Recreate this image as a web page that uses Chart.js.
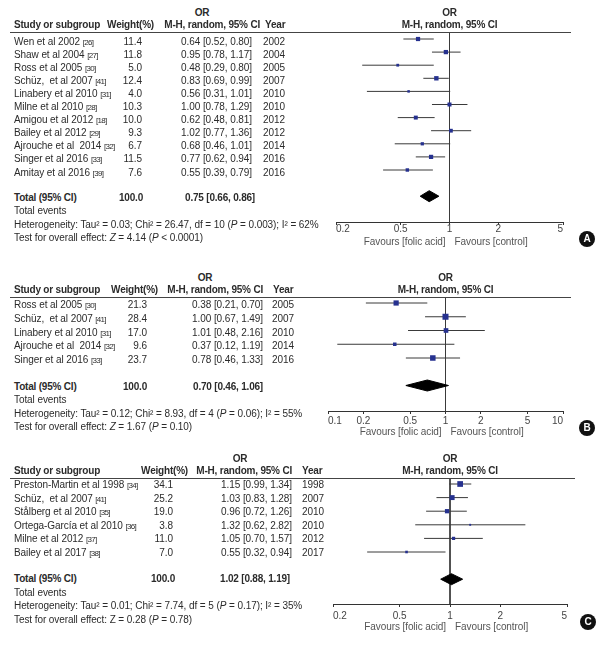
<!DOCTYPE html>
<html>
<head>
<meta charset="utf-8">
<script src="https://cdn.jsdelivr.net/npm/chart.js@4"></script>
<style>
body{margin:0;background:#fff;width:602px;height:645px;position:relative;overflow:hidden;font-family:"Liberation Sans",Arial,sans-serif;color:#2b2b2b;}
.t{position:absolute;font-size:10px;line-height:12px;white-space:pre;letter-spacing:-0.08px;}
.b{font-weight:bold;letter-spacing:-0.2px;}
.g{color:#555}
.ref{font-size:8px;letter-spacing:-0.7px;}
.hl{position:absolute;height:0;border-top:1px solid #444;}
.badge{position:absolute;width:16px;height:16px;border-radius:50%;background:#111;color:#fff;font-weight:bold;font-size:10px;line-height:16px;text-align:center;}
canvas{position:absolute;}
</style>
</head>
<body>
<canvas id="chartA" width="282" height="250" style="left:320px;top:0px"></canvas>
<canvas id="chartB" width="282" height="195" style="left:320px;top:250px"></canvas>
<canvas id="chartC" width="282" height="200" style="left:320px;top:445px"></canvas>
<script>
// panel A
let studyA = ['Wen et al 2002','Shaw et al 2004','Ross et al 2005','Schüz,  et al 2007','Linabery et al 2010','Milne et al 2010','Amigou et al 2012','Bailey et al 2012','Ajrouche et al  2014','Singer et al 2016','Amitay et al 2016'];
let refA = ['26','27','30','41','31','28','18','29','32','33','39'];
let weightA = [11.4,11.8,5.0,12.4,4.0,10.3,10.0,9.3,6.7,11.5,7.6];
let orA = [0.64,0.95,0.48,0.83,0.56,1.00,0.62,1.02,0.68,0.77,0.55];
let lowA = [0.52,0.78,0.29,0.69,0.31,0.78,0.48,0.77,0.46,0.62,0.39];
let highA = [0.80,1.17,0.80,0.99,1.01,1.29,0.81,1.36,1.01,0.94,0.79];
let yearA = [2002,2004,2005,2007,2010,2010,2012,2012,2014,2016,2016];
let totalA = [0.75,0.66,0.86];
let hetA = [0.03,26.47,10,'0.003',62];
let testA = [4.14,'< 0.0001'];
let ticksA = [0.2,0.5,1,2,5];

// panel B
let studyB = ['Ross et al 2005','Schüz,  et al 2007','Linabery et al 2010','Ajrouche et al  2014','Singer et al 2016'];
let refB = ['30','41','31','32','33'];
let weightB = [21.3,28.4,17.0,9.6,23.7];
let orB = [0.38,1.00,1.01,0.37,0.78];
let lowB = [0.21,0.67,0.48,0.12,0.46];
let highB = [0.70,1.49,2.16,1.19,1.33];
let yearB = [2005,2007,2010,2014,2016];
let totalB = [0.70,0.46,1.06];
let hetB = [0.12,8.93,4,'0.06',55];
let testB = [1.67,'= 0.10'];
let ticksB = [0.1,0.2,0.5,1,2,5,10];

// panel C
let studyC = ['Preston-Martin et al 1998','Schüz,  et al 2007','Stålberg et al 2010','Ortega-García et al 2010','Milne et al 2012','Bailey et al 2017'];
let refC = ['34','41','35','36','37','38'];
let weightC = [34.1,25.2,19.0,3.8,11.0,7.0];
let orC = [1.15,1.03,0.96,1.32,1.05,0.55];
let lowC = [0.99,0.83,0.72,0.62,0.70,0.32];
let highC = [1.34,1.28,1.26,2.82,1.57,0.94];
let yearC = [1998,2007,2010,2010,2012,2017];
let totalC = [1.02,0.88,1.19];
let hetC = [0.01,7.74,5,'0.17',35];
let testC = [0.28,'= 0.78'];
let ticksC = [0.2,0.5,1,2,5];

function put(html, x, y, align, cls){
    let el = document.createElement('div');
    el.className = 't ' + (cls || '');
    el.innerHTML = html;
    el.style.top = (y - 6) + 'px';
    if (align === 'r') el.style.right = (602 - x) + 'px';
    else if (align === 'c'){ el.style.left = (x - 100) + 'px'; el.style.width = '200px'; el.style.textAlign = 'center'; }
    else el.style.left = x + 'px';
    document.body.appendChild(el);
}

function ci(v, lo, hi){
    return v.toFixed(2) + ' [' + lo.toFixed(2) + ', ' + hi.toFixed(2) + ']';
}

function panel(id, d, L){
    let n = d.study.length;
    let cx = (L.left + L.right) / 2;

    // table header
    put('OR', L.c.or0, L.line - 19, 'c', 'b');
    put('Study or subgroup', 14, L.line - 7, 'l', 'b');
    put('Weight(%)', L.c.hw, L.line - 7, 'r', 'b');
    put('M-H, random, 95% CI', L.c.hm, L.line - 7, 'r', 'b');
    put('Year', L.c.hy, L.line - 7, 'l', 'b');
    put('OR', cx, L.line - 19, 'c', 'b');
    put('M-H, random, 95% CI', cx, L.line - 7, 'c', 'b');
    let hl = document.createElement('div');
    hl.className = 'hl';
    hl.style.left = '10px';
    hl.style.width = (L.lineEnd - 10) + 'px';
    hl.style.top = L.line + 'px';
    document.body.appendChild(hl);

    // study rows
    for (let i = 0; i < n; i++){
        let y = L.y0 + L.step * i + L.toff;
        put(d.study[i] + ' <span class="ref">[' + d.ref[i] + ']</span>', 14, y, 'l');
        put(d.weight[i].toFixed(1), L.c.w, y, 'r');
        put(ci(d.or[i], d.low[i], d.high[i]), L.c.or, y, 'r');
        put(String(d.year[i]), L.c.yr, y, 'l');
    }

    // total + footer
    let ty = L.y0 + L.step * (n + 1) + L.toff - 1;
    put('Total (95% CI)', 14, ty, 'l', 'b');
    put('100.0', L.c.tw, ty, 'r', 'b');
    put(ci(d.total[0], d.total[1], d.total[2]), L.c.tor, ty, 'r', 'b');
    put('Total events', 14, ty + 13.5, 'l');
    let h = d.het;
    put('Heterogeneity: Tau² = ' + h[0].toFixed(2) + '; Chi² = ' + h[1].toFixed(2) + ', df = ' + h[2] +
        ' (<i>P</i> = ' + h[3] + '); I² = ' + h[4] + '%', 14, ty + 27, 'l');
    let z = L.zItalic ? '<i>Z</i>' : 'Z';
    put('Test for overall effect: ' + z + ' = ' + d.test[0].toFixed(2) + ' (<i>P</i> ' + d.test[1] + ')', 14, ty + 40.5, 'l');

    // favours + badge
    put('Favours [folic acid]', cx - 4, L.axis + L.fav, 'r', 'g');
    put('Favours [control]', cx + 5, L.axis + L.fav, 'l', 'g');
    let bd = document.createElement('div');
    bd.className = 'badge';
    bd.textContent = L.badge;
    bd.style.left = (L.bx - 8) + 'px';
    bd.style.top = (L.by - 8) + 'px';
    document.body.appendChild(bd);

    // plot
    let ymin = (L.line - L.y0) / L.step;
    let ymax = (L.axis - L.y0) / L.step;
    let totRow = n + 1;
    let dh = 5.5 / L.step;

    let datasets = [];
    datasets.push({
        data: d.or.map((v, i) => ({x: v, y: i})),
        pointStyle: 'rect',
        pointRadius: d.weight.map(w => L.box * Math.sqrt(w) / Math.SQRT2),
        backgroundColor: '#26318f',
        borderWidth: 0,
        order: 0
    });
    datasets.push({
        data: [{x: d.total[1], y: totRow}, {x: d.total[0], y: totRow - dh}, {x: d.total[2], y: totRow}, {x: d.total[0], y: totRow + dh}, {x: d.total[1], y: totRow}],
        showLine: true,
        fill: 'shape',
        backgroundColor: '#000',
        borderColor: '#000',
        borderWidth: 1,
        pointRadius: 0,
        order: 1
    });
    for (let i = 0; i < n; i++){
        datasets.push({
            data: [{x: d.low[i], y: i}, {x: d.high[i], y: i}],
            showLine: true,
            borderColor: '#3a3a3a',
            borderWidth: 1,
            pointRadius: 0,
            order: 2
        });
    }
    datasets.push({
        data: [{x: 1, y: ymin}, {x: 1, y: ymax}],
        showLine: true,
        borderColor: '#3a3a3a',
        borderWidth: 1,
        pointRadius: 0,
        order: 3
    });

    let cv = document.getElementById(id);
    let W = cv.width, H = cv.height;
    new Chart(cv, {
        type: 'scatter',
        data: {datasets: datasets},
        options: {
            responsive: false,
            animation: false,
            events: [],
            layout: {padding: {top: L.line - L.top, bottom: H - (L.axis - L.top) - 20, left: L.left - 320, right: 320 + W - L.right}},
            plugins: {legend: {display: false}, tooltip: {enabled: false}},
            scales: {
                x: {
                    type: 'logarithmic',
                    min: d.ticks[0],
                    max: d.ticks[d.ticks.length - 1],
                    afterBuildTicks: s => { s.ticks = d.ticks.map(v => ({value: v})); },
                    afterFit: s => { s.height = 20; },
                    ticks: {
                        callback: v => String(v),
                        align: 'inner',
                        autoSkip: false,
                        maxRotation: 0,
                        padding: L.tpad,
                        color: '#444',
                        font: {family: 'Liberation Sans', size: 10}
                    },
                    grid: {drawOnChartArea: false, drawTicks: true, tickLength: 3, color: '#333'},
                    border: {display: true, color: '#333', width: 1}
                },
                y: {type: 'linear', reverse: true, min: ymin, max: ymax, display: false}
            }
        }
    });
}

panel('chartA',
    {study: studyA, ref: refA, weight: weightA, or: orA, low: lowA, high: highA, year: yearA, total: totalA, het: hetA, test: testA, ticks: ticksA},
    {top: 0, line: 32, lineEnd: 571, axis: 222, y0: 39, step: 13.1, toff: 2.5, left: 336, right: 563, box: 1.25, tpad: -2, fav: 20,
     badge: 'A', bx: 587, by: 239, zItalic: true,
     c: {or0: 202, hw: 154, hm: 260, hy: 265, w: 142, or: 252, yr: 263, tw: 143, tor: 255}});

panel('chartB',
    {study: studyB, ref: refB, weight: weightB, or: orB, low: lowB, high: highB, year: yearB, total: totalB, het: hetB, test: testB, ticks: ticksB},
    {top: 250, line: 297, lineEnd: 571, axis: 411, y0: 303, step: 13.75, toff: 2, left: 328, right: 563, box: 1.13, tpad: 1, fav: 21,
     badge: 'B', bx: 587, by: 428, zItalic: true,
     c: {or0: 205, hw: 158, hm: 263, hy: 273, w: 147, or: 263, yr: 272, tw: 147, tor: 263}});

panel('chartC',
    {study: studyC, ref: refC, weight: weightC, or: orC, low: lowC, high: highC, year: yearC, total: totalC, het: hetC, test: testC, ticks: ticksC},
    {top: 445, line: 478, lineEnd: 575, axis: 604, y0: 484, step: 13.6, toff: 1, left: 333, right: 567, box: 0.98, tpad: 3, fav: 23,
     badge: 'C', bx: 588, by: 622, zItalic: false,
     c: {or0: 240, hw: 188, hm: 292, hy: 302, w: 173, or: 292, yr: 302, tw: 175, tor: 290}});
</script>
</body>
</html>
